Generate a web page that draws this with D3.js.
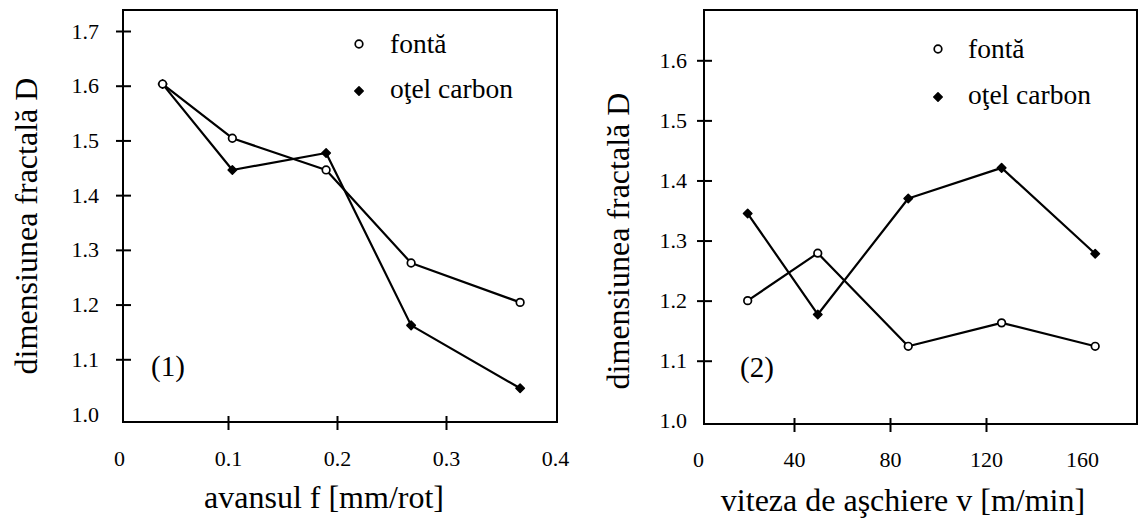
<!DOCTYPE html>
<html>
<head>
<meta charset="utf-8">
<script src="https://cdn.jsdelivr.net/npm/d3@7"></script>
<style>
  html, body { margin: 0; padding: 0; background: #fff; }
  svg { display: block; }
  svg text { font-family: "Liberation Serif", "Times New Roman", serif !important; fill: #000; }
</style>
</head>
<body>
<svg id="chart" width="1139" height="519"></svg>
<script>
// ---------- data ----------
const seriesNames = ["fontă", "oţel carbon"];

// chart (1): feed f [mm/rot]
const feedValues   = [0.04, 0.104, 0.19, 0.268, 0.368];
const feedFonta    = [1.603, 1.504, 1.446, 1.276, 1.204];
const feedOtel     = [1.603, 1.446, 1.477, 1.162, 1.047];
const feedTickLabels = [0, 0.1, 0.2, 0.3, 0.4];
const feedTickMarks  = [0.1, 0.2, 0.3];
const dimTickLabels1 = [1.0, 1.1, 1.2, 1.3, 1.4, 1.5, 1.6, 1.7];
const dimTickMarks1  = [1.1, 1.2, 1.3, 1.4, 1.5, 1.6, 1.7];

// chart (2): cutting speed v [m/min]
const speedValues  = [20.7, 49.9, 87.6, 126.5, 165.5];
const speedFonta   = [1.200, 1.279, 1.124, 1.163, 1.124];
const speedOtel    = [1.345, 1.177, 1.370, 1.421, 1.278];
const speedTickLabels = [0, 40, 80, 120, 160];
const speedTickMarks  = [40, 80, 120];
const dimTickLabels2 = [1.0, 1.1, 1.2, 1.3, 1.4, 1.5, 1.6];
const dimTickMarks2  = [1.1, 1.2, 1.3, 1.4, 1.5, 1.6];

// ---------- layout ----------
const svg = d3.select("#chart");
const SERIF = '"Liberation Serif", "Times New Roman", serif';
const FONT_TICK = 22, FONT_TITLE = 32, FONT_LEG = 27.5, FONT_PANEL = 29;

function panel(cfg) {
  const g = svg.append("g").style("font-family", SERIF);
  const x = d3.scaleLinear().domain(cfg.xDomain).range(cfg.xRange);
  const y = d3.scaleLinear().domain(cfg.yDomain).range(cfg.yRange);
  const f = cfg.frame;

  // frame
  g.append("rect")
    .attr("x", f.left).attr("y", f.top)
    .attr("width", f.right - f.left).attr("height", f.bottom - f.top)
    .attr("fill", "none").attr("stroke", "#000").attr("stroke-width", 2);

  // y tick marks (crossing the axis)
  const yOut = g.append("g").attr("transform", `translate(${f.left},0)`)
    .call(d3.axisLeft(y).tickValues(cfg.yMarks).tickSize(7).tickFormat(""));
  const yIn = g.append("g").attr("transform", `translate(${f.left},0)`)
    .call(d3.axisRight(y).tickValues(cfg.yMarks).tickSize(8).tickFormat(""));
  // x tick marks
  const xOut = g.append("g").attr("transform", `translate(0,${f.bottom})`)
    .call(d3.axisBottom(x).tickValues(cfg.xMarks).tickSize(8).tickFormat(""));
  const xIn = g.append("g").attr("transform", `translate(0,${f.bottom})`)
    .call(d3.axisTop(x).tickValues(cfg.xMarks).tickSize(6).tickFormat(""));
  [yOut, yIn, xOut, xIn].forEach(a => {
    a.select(".domain").remove();
    a.selectAll("line").attr("stroke", "#000").attr("stroke-width", 2);
  });

  // y labels
  const yLab = g.append("g").attr("transform", `translate(${f.left},0)`)
    .call(d3.axisLeft(y).tickValues(cfg.yLabels).tickSize(0).tickPadding(cfg.yPad)
      .tickFormat(d3.format(".1f")));
  // x labels
  const xLab = g.append("g").attr("transform", `translate(0,${f.bottom})`)
    .call(d3.axisBottom(x).tickValues(cfg.xLabels).tickSize(0).tickPadding(cfg.xPad)
      .tickFormat(cfg.xFormat));
  [yLab, xLab].forEach(a => {
    a.attr("font-family", null).attr("font-size", null);
    a.select(".domain").remove();
    a.selectAll("line").remove();
    a.selectAll("text").style("font-family", SERIF).style("font-size", FONT_TICK + "px").attr("fill", "#000");
  });

  // axis titles
  g.append("text")
    .attr("x", cfg.xTitlePos[0]).attr("y", cfg.xTitlePos[1])
    .attr("text-anchor", "middle").style("font-size", FONT_TITLE + "px")
    .text(cfg.xTitle);
  g.append("text")
    .attr("transform", `translate(${cfg.yTitlePos[0]},${cfg.yTitlePos[1]}) rotate(-90)`)
    .attr("text-anchor", "middle").style("font-size", FONT_TITLE + "px")
    .text(cfg.yTitle);

  // lines
  const line = d3.line().x(d => x(d[0])).y(d => y(d[1]));
  const sFonta = cfg.xs.map((v, i) => [v, cfg.fonta[i]]);
  const sOtel  = cfg.xs.map((v, i) => [v, cfg.otel[i]]);
  [sFonta, sOtel].forEach(s => {
    g.append("path").datum(s).attr("d", line)
      .attr("fill", "none").attr("stroke", "#000").attr("stroke-width", 2.2)
      .attr("stroke-linejoin", "round");
  });

  // markers
  const diamond = d3.symbol().type(d3.symbolDiamond2).size(46);
  g.selectAll(".otel").data(sOtel).enter().append("path")
    .attr("transform", d => `translate(${x(d[0])},${y(d[1])})`)
    .attr("d", diamond).attr("fill", "#000").attr("stroke", "#000")
    .attr("stroke-width", 1.5).attr("stroke-linejoin", "round");
  g.selectAll(".fonta").data(sFonta).enter().append("circle")
    .attr("cx", d => x(d[0])).attr("cy", d => y(d[1])).attr("r", 3.8)
    .attr("fill", "#fff").attr("stroke", "#000").attr("stroke-width", 1.7);

  // legend
  const L = cfg.legend;
  g.append("circle").attr("cx", L.x).attr("cy", L.y0).attr("r", 3.8)
    .attr("fill", "#fff").attr("stroke", "#000").attr("stroke-width", 1.7);
  g.append("path").attr("transform", `translate(${L.x},${L.y1})`)
    .attr("d", diamond).attr("fill", "#000").attr("stroke", "#000")
    .attr("stroke-width", 1.5).attr("stroke-linejoin", "round");
  g.append("text").attr("x", L.tx).attr("y", L.y0 + 9).style("font-size", FONT_LEG + "px").text(seriesNames[0]);
  g.append("text").attr("x", L.tx).attr("y", L.y1 + 7).style("font-size", FONT_LEG + "px").text(seriesNames[1]);

  // panel tag
  g.append("text").attr("x", cfg.tagPos[0]).attr("y", cfg.tagPos[1])
    .style("font-size", FONT_PANEL + "px").text(cfg.tag);
}

panel({
  xDomain: [0, 0.4], xRange: [119, 555],
  yDomain: [1.0, 1.7], yRange: [414, 31],
  frame: { left: 123, right: 557, top: 10, bottom: 422 },
  xs: feedValues, fonta: feedFonta, otel: feedOtel,
  xLabels: feedTickLabels, xMarks: feedTickMarks,
  yLabels: dimTickLabels1, yMarks: dimTickMarks1,
  xFormat: d => d === 0 ? "0" : d3.format(".1f")(d),
  yPad: 24, xPad: 28,
  xTitle: "avansul f [mm/rot]", xTitlePos: [324, 508],
  yTitle: "dimensiunea fractală D", yTitlePos: [37, 226],
  legend: { x: 359, y0: 44, y1: 91, tx: 390 },
  tag: "(1)", tagPos: [151, 376]
});

panel({
  xDomain: [0, 160], xRange: [698, 1082],
  yDomain: [1.0, 1.6], yRange: [420.8, 60.3],
  frame: { left: 704, right: 1137, top: 10, bottom: 424 },
  xs: speedValues, fonta: speedFonta, otel: speedOtel,
  xLabels: speedTickLabels, xMarks: speedTickMarks,
  yLabels: dimTickLabels2, yMarks: dimTickMarks2,
  xFormat: d3.format("d"),
  yPad: 17, xPad: 27,
  xTitle: "viteza de aşchiere v [m/min]", xTitlePos: [903, 511],
  yTitle: "dimensiunea fractală D", yTitlePos: [629, 241],
  legend: { x: 938, y0: 49, y1: 97, tx: 968 },
  tag: "(2)", tagPos: [740, 377]
});
</script>
</body>
</html>
